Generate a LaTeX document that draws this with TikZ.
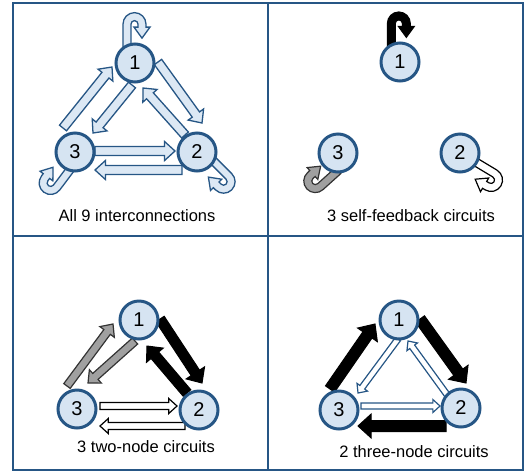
\documentclass[tikz,border=0pt]{standalone}
\usepackage{fontspec}
\setmainfont{Liberation Sans}
\usetikzlibrary{calc,backgrounds}

\definecolor{frameblue}{RGB}{38,86,133}
\definecolor{nodeblue}{RGB}{214,228,242}
\definecolor{arrowfill}{RGB}{220,232,244}
\definecolor{hookgray}{RGB}{160,160,160}

\tikzset{
  frame/.style={draw=frameblue, line width=2pt},
  neuron/.style={circle, draw=frameblue, line width=3pt, fill=nodeblue,
    minimum size=38pt, inner sep=0pt, font=\fontsize{20}{20}\selectfont},
  caption/.style={font=\fontsize{16.5}{18}\selectfont},
  bluearrow/.style={draw=frameblue, line width=1.3pt, fill=arrowfill},
  blackarrow/.style={draw=black, line width=1pt, fill=black},
  grayarrow/.style={draw=black!80, line width=1.2pt, fill=hookgray},
  whitearrow/.style={draw=black, line width=1.2pt, fill=white},
  openarrow/.style={draw=frameblue, line width=1.2pt, fill=white},
}

% block arrow: style, tail, head, shaft half width, head half width
\newcommand{\blockarrow}[5]{%
  \coordinate (tl) at #2;
  \coordinate (hd) at #3;
  \pgfmathsetmacro{\headlen}{1.1*#5}
  \coordinate (bs) at ($(hd)!\headlen pt!(tl)$);
  \draw[#1] ($(tl)!#4pt!90:(hd)$) -- ($(bs)!#4pt!-90:(tl)$) -- ($(bs)!#5pt!-90:(tl)$)
    -- (hd) -- ($(bs)!#5pt!90:(tl)$) -- ($(bs)!#4pt!90:(tl)$) -- ($(tl)!#4pt!-90:(hd)$) -- cycle;
}

% self loop: style, start point, rotation
\newcommand{\selfloop}[3]{%
  \begin{scope}[shift={#2}, rotate=#3, x=1pt, y=1pt]
    \draw[#1] (-4,-4) -- (-4,20) arc[start angle=180, end angle=0, radius=11.5]
      -- (19,17) -- (23,17) -- (15,6) -- (7,17) -- (11,17) -- (11,20)
      arc[start angle=0, end angle=180, radius=3.5] -- (4,-4) -- cycle;
  \end{scope}
}

\begin{document}
\begin{tikzpicture}[x=1pt, y=-1pt]
    \useasboundingbox (0,0) rectangle (526,472);
    \draw[frame] (13,3) rectangle (523,470);
    \draw[frame] (268,3) -- (268,470);
    \draw[frame] (13,236) -- (523,236);

    %(a)
    \node[neuron] (N11) at (135, 63) {1};
    \node[neuron] (N21) at (197, 152) {2};
    \node[neuron] (N31) at (75, 152) {3};
    \node[caption] (A) at (137, 216) {All 9 interconnections};

    %(b)
    \node[neuron] (N12) at (400, 62) {1};
    \node[neuron] (N22) at (460, 153) {2};
    \node[neuron] (N32) at (338, 153) {3};
    \node[caption] (B) at (411, 216) {3 self-feedback circuits};

    %(c)
    \node[neuron] (N13) at (139, 320) {1};
    \node[neuron] (N23) at (199, 410) {2};
    \node[neuron] (N33) at (77, 409) {3};
    \node[caption] (C) at (146, 447) {3 two-node circuits};

    %(d)
    \node[neuron] (N14) at (399, 320) {1};
    \node[neuron] (N24) at (461, 408) {2};
    \node[neuron] (N34) at (339, 410) {3};
    \node[caption] (D) at (414, 452) {2 three-node circuits};

    \begin{pgfonlayer}{background}
    %(a)
    \blockarrow{bluearrow}{($(N31)+(-12,-24)$)}{($(N11)+(-23,4)$)}{4.5}{9.5}
    \blockarrow{bluearrow}{($(N11)+(-3,22)$)}{($(N31)+(18,-19)$)}{4.5}{9.5}
    \blockarrow{bluearrow}{($(N11)+(23,-1)$)}{($(N21)+(5,-29)$)}{4.5}{9.5}
    \blockarrow{bluearrow}{($(N21)+(-12,-17)$)}{($(N11)+(8,25)$)}{4.5}{9.5}
    \blockarrow{bluearrow}{($(N31)+(20,-1)$)}{($(N21)+(-22,-1)$)}{4.5}{9.5}
    \blockarrow{bluearrow}{($(N21)+(-15,18)$)}{($(N31)+(20,18)$)}{4.5}{9.5}
    \selfloop{bluearrow}{(N11.113)}{0}
    \selfloop{bluearrow}{(N21.-30)}{-135}
    \selfloop{bluearrow}{(N31.-108)}{143}

    %(b)
    \selfloop{blackarrow}{(N12.115)}{0}
    \selfloop{whitearrow}{(N22.-30)}{-121}
    \selfloop{grayarrow}{(N32.-98)}{132}

    %(c)
    \blockarrow{grayarrow}{($(N33)+(-10,-23)$)}{($(N13)+(-26,4)$)}{4}{9}
    \blockarrow{grayarrow}{($(N13)+(-4,21)$)}{($(N33)+(11,-26)$)}{4}{9}
    \blockarrow{blackarrow}{($(N13)+(21,-1)$)}{($(N23)+(3,-27)$)}{5}{11}
    \blockarrow{blackarrow}{($(N23)+(-12,-17)$)}{($(N13)+(8,26)$)}{5}{11}
    \blockarrow{whitearrow}{($(N33)+(23,-3)$)}{($(N23)+(-22,-4)$)}{3.5}{7.5}
    \blockarrow{whitearrow}{($(N23)+(-14,16)$)}{($(N33)+(23,17)$)}{3.5}{7.5}

    %(d)
    \blockarrow{blackarrow}{($(N34)+(-9,-21)$)}{($(N14)+(-24,4)$)}{5.5}{12}
    \blockarrow{openarrow}{($(N14)+(-1,19)$)}{($(N34)+(19,-17)$)}{3}{6.5}
    \blockarrow{blackarrow}{($(N14)+(21,-1)$)}{($(N24)+(5,-25)$)}{5.5}{12}
    \blockarrow{openarrow}{($(N24)+(-13,-12)$)}{($(N14)+(9,21)$)}{3}{6.5}
    \blockarrow{openarrow}{($(N34)+(22,-4)$)}{($(N24)+(-21,-2)$)}{3}{6.5}
    \blockarrow{blackarrow}{($(N24)+(-15,18)$)}{($(N34)+(19,16)$)}{5.5}{12}
    \end{pgfonlayer}
\end{tikzpicture}
\end{document}
